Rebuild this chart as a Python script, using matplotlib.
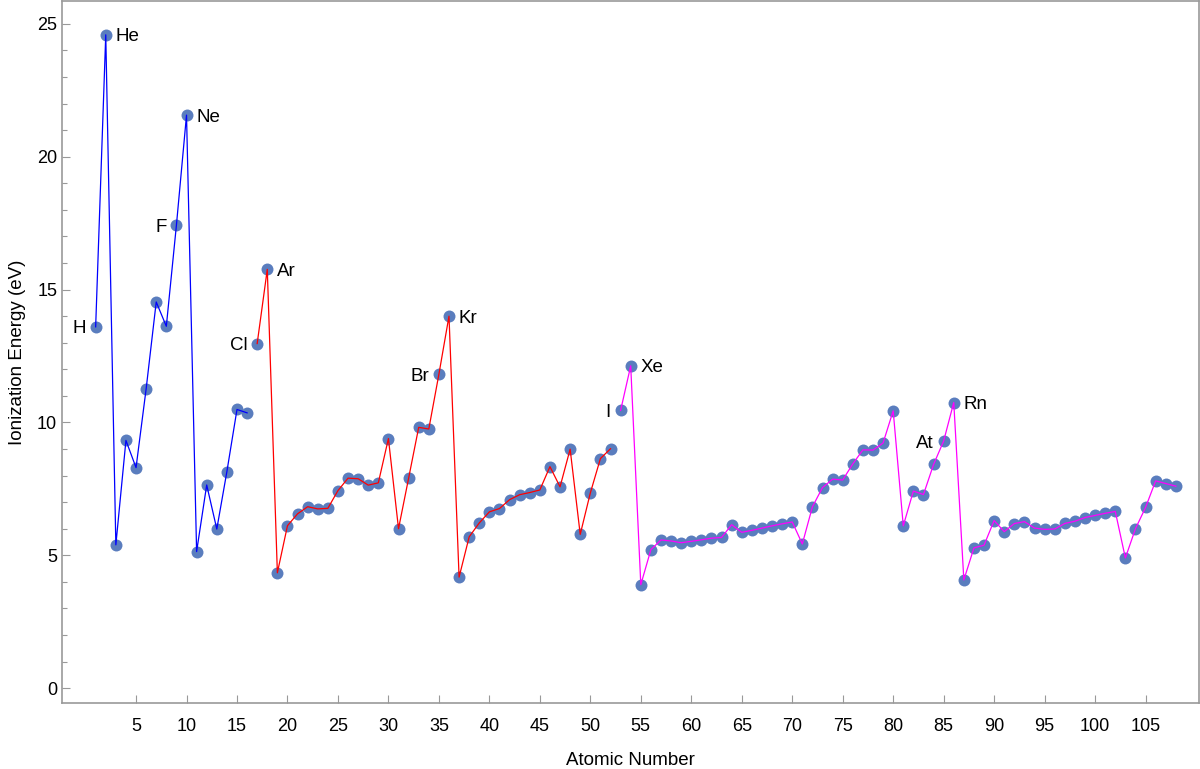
import matplotlib.pyplot as plt
from matplotlib.ticker import MultipleLocator

plt.rcParams['font.family'] = ['Liberation Sans', 'DejaVu Sans']

# first ionization energies (eV), Z = 1..108
energy = [13.598, 24.587, 5.392, 9.323, 8.298, 11.260, 14.534, 13.618, 17.423, 21.565,
          5.139, 7.646, 5.986, 8.152, 10.487, 10.360, 12.968, 15.760, 4.341, 6.113,
          6.561, 6.828, 6.746, 6.767, 7.434, 7.902, 7.881, 7.640, 7.726, 9.394,
          5.999, 7.900, 9.815, 9.752, 11.814, 14.000, 4.177, 5.695, 6.217, 6.634,
          6.759, 7.092, 7.280, 7.361, 7.459, 8.337, 7.576, 8.994, 5.786, 7.344,
          8.640, 9.010, 10.451, 12.130, 3.894, 5.212, 5.577, 5.539, 5.473, 5.525,
          5.582, 5.644, 5.670, 6.150, 5.864, 5.939, 6.022, 6.108, 6.184, 6.254,
          5.426, 6.825, 7.550, 7.864, 7.834, 8.438, 8.967, 8.959, 9.226, 10.438,
          6.108, 7.417, 7.286, 8.417, 9.300, 10.749, 4.073, 5.278, 5.380, 6.307,
          5.890, 6.194, 6.266, 6.026, 5.974, 5.991, 6.198, 6.282, 6.420, 6.500,
          6.580, 6.650, 4.900, 6.000, 6.800, 7.800, 7.700, 7.600]
z = list(range(1, len(energy) + 1))

# line segments: (first Z, last Z, colour)
segments = [(1, 16, '#0000FF'), (17, 52, '#FF0000'), (53, 108, '#FF00FF')]

# labelled elements: Z, symbol
labels_right = [(2, 'He'), (10, 'Ne'), (18, 'Ar'), (36, 'Kr'), (54, 'Xe'), (86, 'Rn')]
labels_left = [(1, 'H'), (9, 'F'), (17, 'Cl'), (35, 'Br'), (53, 'I'), (85, 'At')]

fig = plt.figure(figsize=(12, 7.69), dpi=100)
ax = fig.add_axes([0.0517, 0.0858, 0.9471, 0.9129])

ax.plot(z, energy, 'o', color='#5A7DBE', markersize=8.6, markeredgewidth=0, zorder=2)
for a, b, col in segments:
    ax.plot(z[a - 1:b], energy[a - 1:b], color=col, lw=0.9, zorder=3)

for n, s in labels_right:
    ax.annotate(s, (n, energy[n - 1]), xytext=(7, 0), textcoords='offset points',
                ha='left', va='center_baseline', fontsize=13.5)
for n, s in labels_left:
    ax.annotate(s, (n, energy[n - 1]), xytext=(-7, 0), textcoords='offset points',
                ha='right', va='center_baseline', fontsize=13.5)

ax.set_xlim(-2.33, 110.25)
ax.set_ylim(-0.56, 25.86)
ax.set_xticks(range(5, 106, 5))
ax.yaxis.set_major_locator(MultipleLocator(5))
ax.yaxis.set_minor_locator(MultipleLocator(1))
ax.tick_params(which='both', direction='in', color='#999999', labelsize=13)
ax.tick_params(which='major', length=6, width=0.8)
ax.tick_params(which='minor', length=3.5, width=0.8)
ax.tick_params(axis='x', pad=11)
for sp in ax.spines.values():
    sp.set_color('#999999')
    sp.set_linewidth(1.2)

ax.set_xlabel('Atomic Number', fontsize=13.5, labelpad=12)
ax.set_ylabel('Ionization Energy (eV)', fontsize=13.5, labelpad=8)

fig.savefig('out.png', dpi=100)
